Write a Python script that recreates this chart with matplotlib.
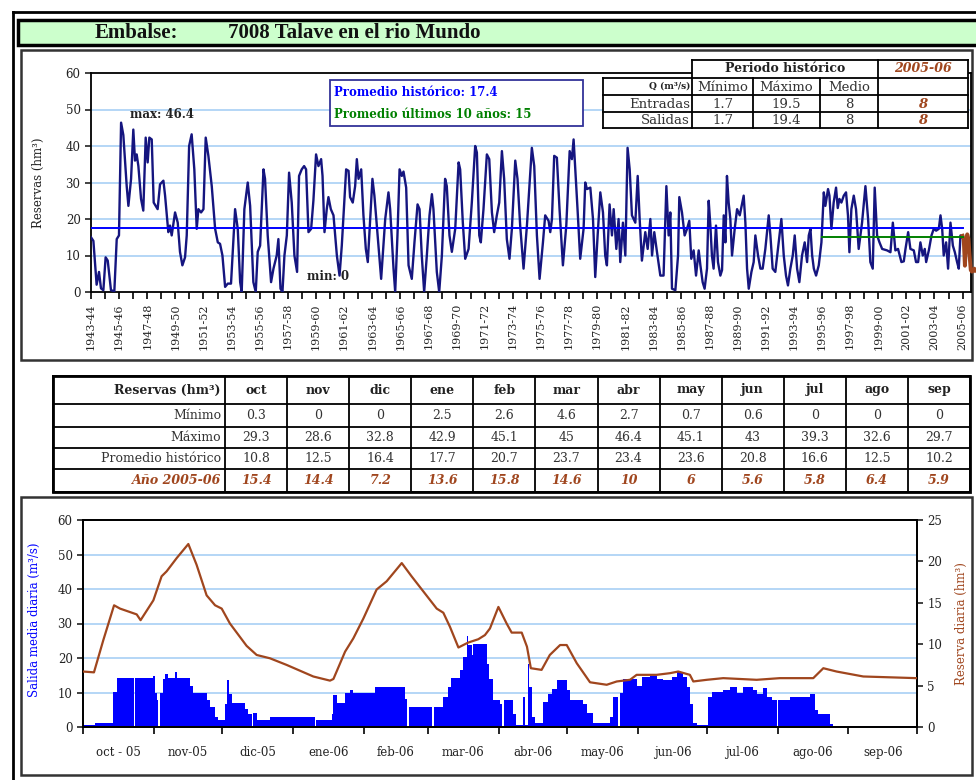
import numpy as np
import matplotlib
matplotlib.use('Agg')
import matplotlib.pyplot as plt
from matplotlib.patches import Rectangle

plt.rcParams['font.family'] = ['DejaVu Serif']

# ---------------- data ----------------
reservoir = '7008 Talave en el rio Mundo'

first_season = 1943
n_seasons = 63
hist_mean = 17.4
mean_10y = 15

# monthly reserves (hm3), read as turning points: years since oct-1943
hist_t = [
    0.00, 0.17, 0.40, 0.57, 0.71, 0.88, 1.04, 1.19, 1.42, 1.66, 1.83, 1.99, 2.14, 2.30, 2.54, 2.66, 2.85, 3.01, 3.13, 3.25,
    3.37, 3.56, 3.72, 3.89, 4.03, 4.15, 4.32, 4.46, 4.60, 4.74, 4.91, 5.15, 5.27, 5.50, 5.62, 5.74, 5.98, 6.17, 6.33, 6.50,
    6.69, 6.81, 6.98, 7.16, 7.35, 7.52, 7.64, 7.83, 8.00, 8.16, 8.35, 8.59, 8.83, 9.02, 9.18, 9.35, 9.54, 9.73, 9.96, 10.25,
    10.44, 10.61, 10.72, 10.91, 11.15, 11.32, 11.55, 11.72, 11.86, 12.03, 12.27, 12.38, 12.57, 12.81, 12.98, 13.21, 13.33, 13.48, 13.62, 13.76,
    13.93, 14.09, 14.28, 14.47, 14.66, 14.80, 14.99, 15.16, 15.30, 15.47, 15.66, 15.82, 16.01, 16.18, 16.37, 16.47, 16.61, 16.77, 16.89, 17.06,
    17.25, 17.49, 17.68, 17.84, 17.96, 18.15, 18.32, 18.43, 18.62, 18.79, 18.91, 19.03, 19.22, 19.38, 19.55, 19.69, 19.86, 20.02, 20.16, 20.33, 20.50, 20.64,
    20.93, 21.16, 21.28, 21.52, 21.64, 21.80, 21.95, 22.11, 22.23, 22.42, 22.59, 22.82, 23.01, 23.23, 23.37, 23.53, 23.70, 23.89, 24.08, 24.25,
    24.36, 24.60, 24.77, 24.96, 25.19, 25.31, 25.50, 25.67, 25.91, 26.15, 26.26, 26.45, 26.62, 26.86, 27.09, 27.33, 27.45, 27.62, 27.73, 27.92,
    28.16, 28.33, 28.52, 28.68, 28.87, 29.04, 29.23, 29.39, 29.58, 29.77, 29.94, 30.18, 30.34, 30.53, 30.77, 31.01, 31.36, 31.53, 31.72, 31.91,
    32.15, 32.31, 32.55, 32.67, 32.79, 32.95, 33.14, 33.33, 33.57, 33.81, 34.05, 34.21, 34.33, 34.45, 34.61, 34.80, 35.04, 35.16, 35.28, 35.52,
    35.71, 35.87, 36.04, 36.23, 36.42, 36.58, 36.70, 36.89, 37.06, 37.18, 37.37, 37.53, 37.65, 37.84, 38.01, 38.17, 38.32, 38.48, 38.72, 38.89,
    39.03, 39.19, 39.43, 39.60, 39.79, 39.91, 40.07, 40.26, 40.50, 40.73, 40.93, 41.09, 41.21, 41.33, 41.57, 41.76, 41.85, 42.04, 42.23, 42.40,
    42.56, 42.70, 42.87, 43.04, 43.23, 43.35, 43.51, 43.65, 43.82, 43.94, 44.06, 44.17, 44.29, 44.46, 44.60, 44.77, 44.89, 45.01, 45.13, 45.24,
    45.36, 45.48, 45.60, 45.79, 45.96, 46.15, 46.43, 46.55, 46.67, 46.79, 46.98, 47.14, 47.26, 47.45, 47.62, 47.78, 47.97, 48.21, 48.33, 48.49,
    48.68, 48.87, 49.11, 49.28, 49.44, 49.58, 49.75, 49.92, 50.06, 50.23, 50.39, 50.58, 50.77, 50.94, 51.06, 51.18, 51.30, 51.42, 51.58, 51.77,
    51.96, 52.13, 52.24, 52.43, 52.53, 52.67, 52.83, 53.00, 53.12, 53.24, 53.38, 53.55, 53.71, 53.85, 53.95, 54.09, 54.26, 54.42, 54.61, 54.85,
    55.09, 55.28, 55.44, 55.61, 55.75, 55.92, 56.09, 56.28, 56.63, 56.87, 57.04, 57.22, 57.41, 57.65, 57.82, 57.94, 58.13, 58.29, 58.53, 58.69,
    58.84, 59.00, 59.17, 59.31, 59.41, 59.60, 59.79, 59.95, 60.12, 60.31, 60.43, 60.55, 60.66, 60.83, 60.97, 61.14, 61.31, 61.45, 61.61, 61.73, 61.85, 61.92,
]
hist_v = [
    15, 14, 2, 5.5, 1, 0.5, 9.5, 8.6, 0.5, 0.2, 14.5, 15.5, 46.4, 43, 29, 23.6, 31, 44.5, 36, 37.7,
    34.5, 25.5, 22.3, 42.3, 35.5, 42.3, 41.8, 24.5, 23.6, 22.7, 29.5, 30.5, 26.4, 16.4, 18.2, 15.5, 21.8, 19, 11, 7.3,
    9.5, 15.5, 40, 43.2, 33.6, 17.3, 22.7, 21.8, 22.7, 42.3, 37.3, 29, 17.3, 13.6, 13.2, 10, 1.4, 2.3, 2.3, 22.7,
    17.3, 2.7, 0, 22.7, 30, 23.6, 2.7, 0, 11, 12.7, 33.6, 31, 15.5, 2.7, 6.4, 10, 14.5, 0.9, 0, 10,
    15.5, 32.7, 24.5, 10, 5.5, 31.8, 33.6, 34.5, 33.6, 16.4, 17.3, 25, 37.7, 34.5, 36.4, 31.8, 16.4, 22.7, 26, 22.7,
    21, 10, 4.5, 12.7, 21, 33.6, 33.2, 26, 24.5, 29, 36.4, 31, 33.6, 21, 11.8, 8.2, 20, 31, 26.4, 18.2, 10, 3.6,
    20, 27.3, 22.7, 6.4, 0, 15.5, 33.6, 31.8, 33, 28.6, 7.3, 3.6, 13.6, 24, 22.7, 10, 0, 10, 21, 26.8,
    22.7, 5.5, 0, 10, 31, 29, 15.5, 11, 17.3, 35.5, 33.6, 19, 9.1, 11.8, 24.5, 40, 38.2, 15.5, 13.6, 22.7,
    37.7, 36.4, 21.8, 16.4, 21, 24.5, 38.6, 31, 14.5, 9.1, 17.3, 36, 31, 18.2, 6.4, 18.2, 39.5, 34.5, 15.5, 3.6,
    13.6, 21, 19.5, 16.4, 20, 37.3, 36.8, 22.7, 7.3, 18.2, 38.6, 36.4, 41.8, 33.6, 22.7, 9.1, 17.3, 30, 28.2, 28.6,
    20, 4.1, 15.5, 27.3, 21.8, 10, 7.3, 24, 15.5, 22.7, 11.8, 20, 8.2, 19, 10, 39.5, 33.6, 21, 19, 31.8,
    20, 8.6, 16.4, 11.8, 20, 10, 16.4, 11, 4.5, 4.5, 29, 15.5, 21.8, 0.9, 0.5, 10, 26, 21.8, 15.5, 17.3,
    19.5, 9.1, 11.4, 4.5, 11.4, 7.3, 2.7, 0.9, 6.4, 25, 18.2, 10, 6.4, 18.2, 8.2, 4.5, 6, 21, 13.6, 31.8,
    24.5, 20, 10, 17.3, 22.7, 21, 26.4, 19, 6.4, 0.9, 5.5, 8.2, 15.5, 10, 6.4, 6.4, 11.8, 21, 15.5, 6.4,
    5.5, 11.8, 20, 10, 4.5, 1.8, 6.4, 10, 15.5, 6.4, 2.7, 10, 13.6, 8.2, 15.5, 17.3, 10, 6.4, 4.5, 7.3,
    13.6, 27.3, 23.6, 28.2, 26.4, 17.3, 24.5, 28.6, 23, 25.5, 24.5, 26.4, 27.3, 20.9, 10.9, 22.7, 26.4, 22.7, 11.8, 19,
    29, 20, 8.2, 6.4, 28.6, 15.5, 13.6, 11.8, 11.4, 10.9, 19, 11.4, 11.8, 8.2, 8.4, 11.8, 16.4, 11.8, 11.4, 8.2,
    8.2, 13.6, 10, 11.8, 8.2, 11.4, 15.5, 17.3, 16.8, 17.3, 21, 17.3, 10, 13.6, 6.4, 19, 12.7, 10.9, 8.2, 6.4, 15.5, 15,
]

# Q table (m3/s)
q_cols = ['Mínimo', 'Máximo', 'Medio']
q_rows = ['Entradas', 'Salidas']
q_hist = [[1.7, 19.5, 8], [1.7, 19.4, 8]]
q_year = [8, 8]
year_label = '2005-06'

# monthly reserves table
months = ['oct', 'nov', 'dic', 'ene', 'feb', 'mar', 'abr', 'may', 'jun', 'jul', 'ago', 'sep']
res_min = [0.3, 0, 0, 2.5, 2.6, 4.6, 2.7, 0.7, 0.6, 0, 0, 0]
res_max = [29.3, 28.6, 32.8, 42.9, 45.1, 45, 46.4, 45.1, 43, 39.3, 32.6, 29.7]
res_mean = [10.8, 12.5, 16.4, 17.7, 20.7, 23.7, 23.4, 23.6, 20.8, 16.6, 12.5, 10.2]
res_year = [15.4, 14.4, 7.2, 13.6, 15.8, 14.6, 10, 6, 5.6, 5.8, 6.4, 5.9]

# daily chart 2005-06
month_labels = ['oct - 05', 'nov-05', 'dic-05', 'ene-06', 'feb-06', 'mar-06',
                'abr-06', 'may-06', 'jun-06', 'jul-06', 'ago-06', 'sep-06']
month_days = [31, 30, 31, 31, 28, 31, 30, 31, 30, 31, 31, 30]

# daily outflow (m3/s) as constant runs: start day, value
run_start = [0, 5.3, 13.3, 14.7, 22.3, 22.8, 30.5, 31.5, 32.2, 33.0,
             33.6, 34.9, 35.9, 37.3, 40.3, 41.0, 46.8, 48.3, 54.1, 55.6,
             57.8, 59.2, 62.1, 62.9, 64.0, 65.1, 70.9, 72.4, 73.8, 74.4,
             76.0, 81.8, 101.5, 102.0, 108.8, 109.6, 111.0, 114.7, 116.8, 118.3,
             127.8, 140.9, 141.9, 142.6, 152.9, 153.4, 157.7, 159.9, 161.0, 165.0,
             166.4, 167.9, 168.6, 170.1, 170.8, 176.7, 177.8, 179.6, 182.5, 183.5,
             184.1, 188.1, 189.5, 192.4, 193.4, 194.6, 195.3, 196.4, 197.8, 201.2,
             203.7, 205.1, 207.3, 211.7, 213.1, 219.0, 220.4, 223.3, 230.6, 232.1,
             234.3, 235.0, 236.2, 242.3, 244.5, 248.1, 251.0, 254.0, 257.6, 259.8,
             262.7, 264.2, 265.6, 267.1, 268.6, 273.7, 275.1, 280.2, 283.1, 286.1,
             289.0, 293.4, 294.8, 297.8, 299.2, 301.4, 303.6, 304.1, 309.4, 318.2,
             320.3, 321.8, 326.9, 328.3]
run_val = [0.5, 1.2, 10.1, 14.2, 0, 14.2, 14.7, 10, 7.7, 0,
           10, 14, 15.3, 14.2, 16, 14.2, 11.8, 9.9, 7.9, 5.8,
           2.9, 2.1, 6.8, 13.5, 9.7, 7, 5.3, 3.9, 0, 4,
           2.1, 2.9, 0, 2.1, 3.9, 9.4, 7, 9.9, 10.8, 9.9,
           11.6, 8.2, 0, 5.8, 0, 5.8, 8.7, 11.6, 14.2, 16.4,
           20.3, 26.3, 23.7, 21, 24, 18.4, 14, 7.7, 6.8, 0,
           7.9, 3.9, 0.5, 8.7, 0.5, 18.4, 11.6, 2.9, 1.2, 7.2,
           9.7, 11, 13.5, 10.6, 7.9, 6.8, 4, 1.2, 2.9, 8.7,
           0, 10, 14, 12, 14.5, 14.7, 14, 13.5, 14.5, 16,
           14.5, 11.6, 6.8, 1.2, 0.5, 8.7, 10.1, 10.6, 11.6, 9.9,
           11.6, 10.6, 9.7, 11.2, 8.7, 7.7, 0, 7.9, 8.7, 9.7,
           4.8, 3.9, 1, 0.4]

# daily reserve (hm3)
res_day = [0, 4.8, 8.9, 13.6, 16.2, 23.5, 25.2, 30.8, 34.4, 36.6,
           41.0, 46.1, 49.7, 54.1, 57.8, 60.7, 64.3, 71.6, 76.0, 81.8,
           89.1, 100.8, 108.1, 109.6, 114.7, 118.3, 122.7, 128.5, 132.9, 139.5,
           143.8, 154.8, 157.7, 160.6, 164.3, 165.0, 168.6, 173.0, 175.9, 178.1,
           181.8, 185.4, 187.6, 192.0, 194.3, 196.0, 200.7, 204.3, 208.8, 211.7,
           216.1, 221.9, 229.2, 233.6, 239.4, 242.3, 251.0, 256.9, 260.5, 265.6,
           267.1, 273.0, 280.2, 294.8, 305.0, 319.6, 324.0, 329.8, 341.5, 353.2,
           364.8]
res_val = [6.7, 6.6, 10.5, 14.7, 14.3, 13.6, 12.9, 15.3, 18.2, 18.8,
           20.4, 22.1, 19.6, 15.9, 14.7, 14.3, 12.5, 9.8, 8.7, 8.3,
           7.5, 6.1, 5.6, 5.8, 9.1, 10.7, 13.1, 16.6, 17.6, 19.8,
           18.2, 14.3, 13.8, 12.1, 9.6, 9.7, 10.2, 10.6, 11.1, 11.9,
           14.5, 12.5, 11.4, 11.4, 9.7, 7.1, 6.9, 8.7, 9.9, 9.9,
           7.7, 5.4, 5.1, 5.5, 5.7, 6.3, 6.3, 6.5, 6.7, 6.3,
           5.5, 5.7, 5.9, 5.7, 5.9, 5.9, 7.1, 6.7, 6.1, 6.0,
           5.9]

# ---------------- styles ----------------
W, H = 976, 780
NAVY = '#15157F'
BROWN = '#A0461E'
GRID = '#A8D0F5'
TXT = '#222222'


def rect(x0, y0, x1, y1):
    return [x0 / W, 1 - y1 / H, (x1 - x0) / W, (y1 - y0) / H]


def fmt(v):
    return f'{v:g}'


fig = plt.figure(figsize=(W / 100, H / 100), dpi=100)

bg = fig.add_axes([0, 0, 1, 1], zorder=0)
bg.set_xlim(0, W)
bg.set_ylim(H, 0)
bg.axis('off')

# outer frame and title band
bg.plot([13, W], [12, 12], color='black', lw=2)
bg.plot([13, 13], [12, H], color='black', lw=2)
bg.add_patch(Rectangle((18, 20), W, 25, facecolor='#CCFFCC', edgecolor='black', lw=2.5))
bg.text(95, 33, 'Embalse:', family='Liberation Serif', fontsize=15, fontweight='bold', va='center',
        color='#111111')
bg.text(228, 33, reservoir, family='Liberation Serif', fontsize=15, fontweight='bold', va='center',
        color='#111111')

# chart boxes
bg.add_patch(Rectangle((21, 50), 951, 310, facecolor='white', edgecolor='#333333', lw=1.8))
bg.add_patch(Rectangle((21, 497), 951, 278, facecolor='white', edgecolor='#333333', lw=1.8))

# monthly reserves table
col_x = [53] + list(np.linspace(225, 970, len(months) + 1))
row_y = [376, 404, 427, 448, 469, 492]
for x in col_x:
    bg.plot([x, x], [row_y[0], row_y[-1]], color='black', lw=1.3)
for y in row_y:
    bg.plot([col_x[0], col_x[-1]], [y, y], color='black', lw=1.3)
bg.add_patch(Rectangle((col_x[0], row_y[0]), col_x[-1] - col_x[0], row_y[-1] - row_y[0],
                       fill=False, edgecolor='black', lw=2))
row_names = ['Mínimo', 'Máximo', 'Promedio histórico', 'Año 2005-06']
row_data = [res_min, res_max, res_mean, res_year]
bg.text(col_x[1] - 4, (row_y[0] + row_y[1]) / 2, 'Reservas (hm³)', ha='right', va='center',
        fontsize=9, fontweight='bold', color=TXT)
for j, m in enumerate(months):
    bg.text((col_x[j + 1] + col_x[j + 2]) / 2, (row_y[0] + row_y[1]) / 2, m, ha='center', va='center',
            fontsize=9, fontweight='bold', color=TXT)
for i, (name, vals) in enumerate(zip(row_names, row_data)):
    yc = (row_y[i + 1] + row_y[i + 2]) / 2
    last = i == len(row_names) - 1
    kw = dict(fontsize=9, va='center', color=BROWN if last else '#333333',
              fontweight='bold' if last else 'normal', style='italic' if last else 'normal')
    bg.text(col_x[1] - 4, yc, name, ha='right', **kw)
    for j, v in enumerate(vals):
        bg.text((col_x[j + 1] + col_x[j + 2]) / 2, yc, fmt(v), ha='center', **kw)

# ---------------- historic chart ----------------
ax = fig.add_axes(rect(91, 73, 971, 292), zorder=1)
ax.patch.set_visible(False)
ax.set_xlim(0, 62.6)
ax.set_ylim(0, 60)
for g in range(10, 60, 10):
    ax.axhline(g, color=GRID, lw=1.2, zorder=0)
ax.plot(hist_t, hist_v, color=NAVY, lw=1.7, zorder=3)
year_t = n_seasons - 1 + np.arange(len(res_year)) / 12
ax.plot(year_t, res_year, color=BROWN, lw=2.8, zorder=4, clip_on=False)
ax.plot([0, n_seasons - 1], [hist_mean, hist_mean], color='#0000FF', lw=1.4, zorder=4)
ax.plot([n_seasons - 11, n_seasons - 1], [mean_10y, mean_10y], color='#008000', lw=1.4, zorder=4)

seasons = [f'{y}-{(y + 1) % 100:02d}' for y in range(first_season, first_season + n_seasons)]
ax.set_xticks(range(n_seasons))
ax.set_xticklabels([s if i % 2 == 0 else '' for i, s in enumerate(seasons)], rotation=90, fontsize=8, color=TXT)
ax.set_yticks(range(0, 61, 10))
ax.tick_params(axis='y', labelsize=8.5, colors=TXT, length=4, width=1.2)
ax.tick_params(axis='x', length=5, width=1.2, pad=3)
for s in ax.spines.values():
    s.set_linewidth(1.3)
ax.set_ylabel('Reservas (hm³)', fontsize=8.5, color=TXT)
ax.yaxis.set_label_coords(-0.052, 0.5)
ax.text(2.75, 48.5, f'max: {max(res_max):g}', fontsize=8.5, color=TXT, va='center', fontweight='bold')
ax.text(15.4, 4.2, f'min: {min(res_min):g}', fontsize=8.5, color=TXT, va='center', fontweight='bold')

# ---------------- daily chart ----------------
ax3 = fig.add_axes(rect(83, 520, 917, 727), zorder=1)
ax3.patch.set_visible(False)
ax3.set_xlim(0, sum(month_days))
ax3.set_ylim(0, 60)
for g in range(10, 60, 10):
    ax3.axhline(g, color=GRID, lw=1.2, zorder=0)
widths = np.diff(np.append(run_start, sum(month_days)))
ax3.bar(run_start, run_val, width=widths, align='edge', color='#0000FF', linewidth=0, zorder=2)
edges = np.concatenate([[0], np.cumsum(month_days)])
ax3.set_xticks(edges)
ax3.set_xticklabels([])
ax3.set_xticks((edges[:-1] + edges[1:]) / 2, minor=True)
ax3.set_xticklabels(month_labels, minor=True, fontsize=8.5, color=TXT)
ax3.tick_params(axis='x', which='major', length=5, width=1.2)
ax3.tick_params(axis='x', which='minor', length=0, pad=14)
ax3.set_yticks(range(0, 61, 10))
ax3.tick_params(axis='y', labelsize=8.5, colors=TXT, length=4, width=1.2)
ax3.set_ylabel('Salida media diaria (m³/s)', fontsize=8.5, color='#0000FF')
ax3.yaxis.set_label_coords(-0.05, 0.52)
for s in ax3.spines.values():
    s.set_linewidth(1.3)

ax4 = ax3.twinx()
ax4.set_ylim(0, 25)
ax4.plot(res_day, res_val, color=BROWN, lw=1.6, zorder=3)
ax4.set_yticks(range(0, 26, 5))
ax4.tick_params(axis='y', labelsize=8.5, colors=TXT, length=4, width=1.2)
ax4.set_ylabel('Reserva diaria (hm³)', fontsize=8.5, color=BROWN, rotation=90)
ax4.yaxis.set_label_coords(1.046, 0.5)
for s in ax4.spines.values():
    s.set_linewidth(1.3)

# ---------------- overlay: legend box and Q table ----------------
ov = fig.add_axes([0, 0, 1, 1], zorder=5)
ov.set_xlim(0, W)
ov.set_ylim(H, 0)
ov.patch.set_visible(False)
ov.axis('off')

ov.add_patch(Rectangle((330, 80), 253, 46, facecolor='white', edgecolor='#333399', lw=1.3))
ov.text(334, 92, f'Promedio histórico: {hist_mean:g}', color='#0000FF', fontsize=8.5,
        fontweight='bold', va='center')
ov.text(334, 114, f'Promedio últimos 10 años: {mean_10y:g}', color='#008000', fontsize=8.5,
        fontweight='bold', va='center')

qx = [603, 692, 753, 820, 878, 968]
qy = [60, 78, 95, 112, 128]
ov.add_patch(Rectangle((qx[0], qy[1]), qx[-1] - qx[0], qy[-1] - qy[1], facecolor='white', edgecolor='none'))
ov.add_patch(Rectangle((qx[1], qy[0]), qx[-1] - qx[1], qy[1] - qy[0], facecolor='white', edgecolor='none'))
for k, x in enumerate(qx):
    top = qy[0] if k in (1, 4, 5) else qy[1]
    ov.plot([x, x], [top, qy[-1]], color='black', lw=1.3)
for y in qy[1:]:
    ov.plot([qx[0], qx[-1]], [y, y], color='black', lw=1.3)
ov.plot([qx[1], qx[-1]], [qy[0], qy[0]], color='black', lw=1.3)
ov.text((qx[1] + qx[4]) / 2, (qy[0] + qy[1]) / 2, 'Periodo histórico', ha='center', va='center',
        fontsize=9, fontweight='bold', color=TXT)
ov.text((qx[4] + qx[5]) / 2, (qy[0] + qy[1]) / 2, year_label, ha='center', va='center',
        fontsize=9, fontweight='bold', style='italic', color=BROWN)
ov.text(qx[1] - 2, (qy[1] + qy[2]) / 2, 'Q (m³/s)', ha='right', va='center', fontsize=6.5,
        fontweight='bold', color=TXT)
for j, c in enumerate(q_cols):
    ov.text((qx[j + 1] + qx[j + 2]) / 2, (qy[1] + qy[2]) / 2 + 1, c, ha='center', va='center',
            fontsize=9.5, color='#333333')
for i, r in enumerate(q_rows):
    yc = (qy[i + 2] + qy[i + 3]) / 2 + 1
    ov.text(qx[1] - 2, yc, r, ha='right', va='center', fontsize=9.5, color='#333333')
    for j, v in enumerate(q_hist[i]):
        ov.text((qx[j + 1] + qx[j + 2]) / 2, yc, fmt(v), ha='center', va='center', fontsize=9.5, color='#333333')
    ov.text((qx[4] + qx[5]) / 2, yc, fmt(q_year[i]), ha='center', va='center', fontsize=9.5,
            style='italic', fontweight='bold', color=BROWN)

fig.savefig('out.png', dpi=100)
